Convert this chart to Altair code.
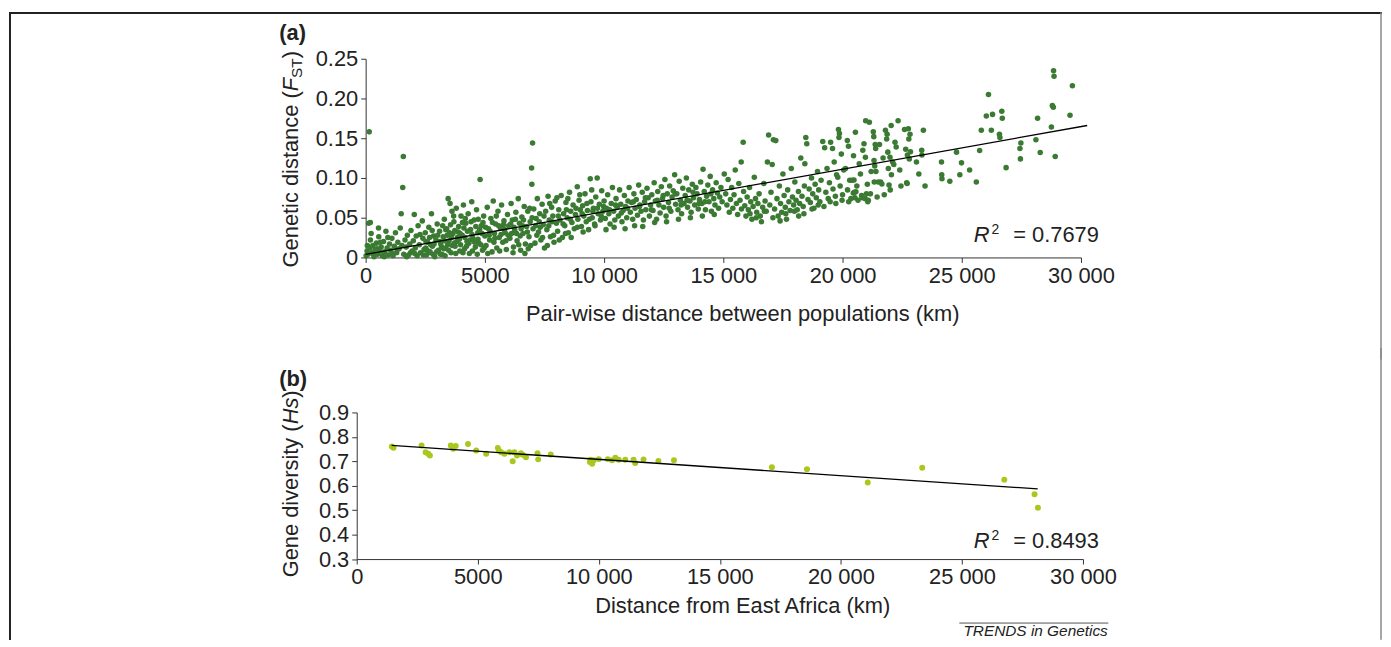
import altair as alt
import pandas as pd

FONT = "Liberation Sans"
TXT = "#222222"
GREEN = "#3b7a32"
LIME = "#a8c81e"

# ---------------- Panel (a): pair-wise distance (km) vs Fst
fst_0_2500 = [
    (20, 0.002), (60, 0.008), (70, 0.015), (100, 0.004), (125, 0.043), (150, 0.158), (180, 0.012),
    (195, 0.044), (200, 0.022), (230, 0.030), (260, 0.006), (300, 0.015), (320, 0.004), (350, 0.001),
    (400, 0.010), (450, 0.018), (480, 0.011), (500, 0.004), (540, 0.037), (550, 0.026), (600, 0.008),
    (620, 0.019), (650, 0.013), (700, 0.002), (750, 0.020), (780, 0.001), (800, 0.007), (850, 0.033),
    (900, 0.012), (930, 0.025), (950, 0.003), (1000, 0.017), (1050, 0.009), (1100, 0.024), (1120, 0.005),
    (1150, 0.002), (1200, 0.014), (1250, 0.031), (1300, 0.006), (1320, 0.010), (1350, 0.019), (1400, 0.011),
    (1450, 0.037), (1490, 0.055), (1520, 0.015), (1555, 0.088), (1580, 0.127), (1600, 0.004), (1650, 0.022),
    (1700, 0.013), (1720, 0.001), (1750, 0.028), (1800, 0.003), (1850, 0.017), (1880, 0.006), (1900, 0.034),
    (1950, 0.008), (2000, 0.021), (2040, 0.054), (2060, 0.005), (2080, 0.012), (2120, 0.027), (2160, 0.002),
    (2200, 0.040), (2250, 0.016), (2280, 0.029), (2300, 0.006), (2375, 0.046), (2400, 0.024), (2420, 0.003),
    (2450, 0.010),
]
fst_2500_5000 = [
    (2500, 0.031), (2520, 0.012), (2550, 0.003), (2580, 0.009), (2600, 0.019), (2650, 0.038), (2680, 0.025),
    (2700, 0.007), (2730, 0.016), (2760, 0.055), (2800, 0.014), (2820, 0.004), (2850, 0.027), (2900, 0.001),
    (2950, 0.022), (2980, 0.007), (3000, 0.042), (3050, 0.009), (3100, 0.033), (3120, 0.020), (3150, 0.017),
    (3180, 0.013), (3200, 0.004), (3250, 0.026), (3280, 0.011), (3300, 0.048), (3330, 0.002), (3350, 0.012),
    (3360, 0.035), (3400, 0.036), (3420, 0.028), (3460, 0.074), (3480, 0.009), (3500, 0.021), (3540, 0.068),
    (3560, 0.041), (3580, 0.006), (3620, 0.058), (3630, 0.015), (3660, 0.030), (3690, 0.052), (3700, 0.045),
    (3720, 0.018), (3750, 0.014), (3780, 0.005), (3800, 0.062), (3850, 0.025), (3880, 0.032), (3900, 0.039),
    (3930, 0.023), (3950, 0.008), (3980, 0.016), (4000, 0.052), (4050, 0.028), (4080, 0.006), (4100, 0.066),
    (4120, 0.037), (4150, 0.011), (4180, 0.049), (4200, 0.043), (4230, 0.014), (4250, 0.020), (4300, 0.055),
    (4350, 0.005), (4380, 0.022), (4400, 0.035), (4420, 0.045), (4450, 0.070), (4480, 0.008), (4500, 0.024),
    (4550, 0.047), (4600, 0.013), (4620, 0.039), (4650, 0.060), (4680, 0.004), (4700, 0.031), (4720, 0.048),
    (4750, 0.018), (4800, 0.098), (4830, 0.016), (4850, 0.040), (4880, 0.030), (4900, 0.009), (4950, 0.052),
    (4970, 0.012), (5000, 0.027),
]
fst_5000_7500 = [
    (5050, 0.015), (5100, 0.063), (5120, 0.005), (5150, 0.036), (5200, 0.022), (5220, 0.033), (5250, 0.049),
    (5300, 0.007), (5350, 0.071), (5380, 0.019), (5400, 0.030), (5450, 0.042), (5480, 0.052), (5500, 0.012),
    (5550, 0.058), (5600, 0.025), (5620, 0.008), (5650, 0.037), (5700, 0.066), (5750, 0.019), (5780, 0.041),
    (5800, 0.046), (5850, 0.031), (5880, 0.021), (5900, 0.010), (5950, 0.054), (6000, 0.040), (6050, 0.024),
    (6100, 0.068), (6120, 0.030), (6150, 0.047), (6180, 0.006), (6200, 0.013), (6250, 0.035), (6280, 0.048),
    (6300, 0.057), (6350, 0.021), (6400, 0.074), (6420, 0.016), (6450, 0.043), (6480, 0.027), (6500, 0.009),
    (6550, 0.051), (6580, 0.040), (6600, 0.030), (6650, 0.064), (6680, 0.005), (6700, 0.017), (6750, 0.039),
    (6800, 0.058), (6820, 0.011), (6850, 0.026), (6880, 0.062), (6900, 0.045), (6920, 0.015), (6960, 0.1125),
    (6970, 0.092), (7000, 0.144), (7020, 0.036), (7050, 0.061), (7100, 0.018), (7150, 0.049), (7180, 0.028),
    (7200, 0.074), (7250, 0.032), (7280, 0.045), (7300, 0.055), (7350, 0.022), (7400, 0.067), (7420, 0.025),
    (7450, 0.041), (7500, 0.012),
]
fst_7500_10000 = [
    (7550, 0.058), (7600, 0.035), (7620, 0.015), (7650, 0.077), (7700, 0.047), (7720, 0.068), (7750, 0.026),
    (7800, 0.063), (7850, 0.052), (7880, 0.028), (7900, 0.019), (7950, 0.071), (8000, 0.043), (8020, 0.075),
    (8050, 0.033), (8100, 0.060), (8120, 0.022), (8150, 0.047), (8200, 0.078), (8250, 0.025), (8300, 0.055),
    (8350, 0.040), (8380, 0.030), (8400, 0.069), (8450, 0.050), (8480, 0.074), (8500, 0.031), (8550, 0.082),
    (8600, 0.058), (8620, 0.025), (8650, 0.044), (8700, 0.066), (8750, 0.036), (8800, 0.054), (8875, 0.089),
    (8880, 0.038), (8900, 0.048), (8950, 0.072), (8980, 0.079), (9000, 0.060), (9050, 0.039), (9100, 0.065),
    (9120, 0.032), (9150, 0.052), (9200, 0.080), (9250, 0.045), (9300, 0.059), (9350, 0.035), (9380, 0.048),
    (9420, 0.099), (9450, 0.070), (9480, 0.085), (9500, 0.050), (9550, 0.062), (9600, 0.042), (9620, 0.040),
    (9650, 0.076), (9710, 0.100), (9750, 0.055), (9800, 0.067), (9850, 0.047), (9880, 0.052), (9900, 0.084),
    (9950, 0.058), (10000, 0.071),
]
fst_10000_15000 = [
    (10050, 0.049), (10080, 0.035), (10100, 0.062), (10150, 0.079), (10200, 0.055), (10250, 0.042),
    (10300, 0.068), (10350, 0.088), (10400, 0.058), (10420, 0.038), (10450, 0.047), (10500, 0.074),
    (10550, 0.063), (10600, 0.052), (10650, 0.085), (10700, 0.067), (10750, 0.045), (10800, 0.059),
    (10850, 0.078), (10880, 0.036), (10900, 0.064), (10950, 0.050), (11000, 0.071), (11050, 0.088),
    (11100, 0.057), (11150, 0.069), (11200, 0.048), (11250, 0.080), (11280, 0.040), (11300, 0.062),
    (11350, 0.073), (11400, 0.053), (11450, 0.091), (11500, 0.066), (11550, 0.058), (11600, 0.082),
    (11620, 0.039), (11650, 0.047), (11700, 0.070), (11750, 0.060), (11800, 0.087), (11850, 0.075),
    (11900, 0.052), (11950, 0.066), (12000, 0.079), (12050, 0.059), (12100, 0.094), (12120, 0.044),
    (12150, 0.071), (12200, 0.048), (12250, 0.083), (12300, 0.066), (12350, 0.056), (12400, 0.089),
    (12450, 0.074), (12500, 0.063), (12550, 0.098), (12600, 0.052), (12620, 0.045), (12650, 0.080),
    (12700, 0.069), (12750, 0.090), (12800, 0.058), (12850, 0.076), (12900, 0.084), (12960, 0.104),
    (13000, 0.067), (13050, 0.080), (13100, 0.060), (13120, 0.048), (13150, 0.096), (13200, 0.072),
    (13250, 0.055), (13300, 0.087), (13350, 0.068), (13400, 0.078), (13450, 0.100), (13500, 0.063),
    (13550, 0.085), (13600, 0.071), (13620, 0.050), (13650, 0.057), (13700, 0.092), (13750, 0.075),
    (13800, 0.066), (13850, 0.088), (13900, 0.080), (13950, 0.061), (14000, 0.073), (14050, 0.095),
    (14100, 0.068), (14120, 0.052), (14150, 0.111), (14200, 0.083), (14250, 0.060), (14300, 0.077),
    (14350, 0.091), (14400, 0.070), (14450, 0.102), (14500, 0.058), (14550, 0.085), (14600, 0.074),
    (14620, 0.054), (14650, 0.066), (14700, 0.094), (14750, 0.081), (14800, 0.062), (14850, 0.076),
    (14900, 0.088), (14950, 0.070),
]
fst_dense_extra = [
    (2530, 0.020), (2630, 0.006), (2790, 0.034), (2870, 0.017), (3020, 0.028), (3140, 0.004), (3230, 0.040),
    (3310, 0.021), (3440, 0.016), (3520, 0.031), (3600, 0.025), (3740, 0.034), (3820, 0.020), (3960, 0.030),
    (4060, 0.044), (4160, 0.025), (4270, 0.033), (4330, 0.018), (4460, 0.029), (4570, 0.019), (4710, 0.023),
    (4780, 0.035), (4920, 0.044), (5030, 0.038), (5180, 0.028), (5320, 0.044), (5420, 0.024), (5580, 0.040),
    (5680, 0.029), (5820, 0.035), (5980, 0.028), (6080, 0.042), (6220, 0.038), (6330, 0.030), (6520, 0.036),
    (6620, 0.047), (6780, 0.032), (6980, 0.050), (7130, 0.040), (7320, 0.038), (7480, 0.052), (7680, 0.040),
    (7820, 0.045), (8080, 0.052), (8280, 0.042), (8420, 0.060), (8580, 0.048), (8820, 0.062), (9080, 0.055),
    (9280, 0.068), (9530, 0.058), (9720, 0.062), (9980, 0.064), (10230, 0.060), (10480, 0.066), (10720, 0.056),
    (10980, 0.062), (11230, 0.070), (11480, 0.064), (11730, 0.075), (11980, 0.060), (12230, 0.072),
    (12480, 0.078), (12730, 0.062), (12980, 0.080), (13230, 0.066), (13480, 0.072), (13730, 0.082),
    (13980, 0.068), (14230, 0.070), (14480, 0.080),
]
fst_15000_20000 = [
    (15040, 0.105), (15100, 0.080), (15150, 0.066), (15200, 0.098), (15250, 0.057), (15300, 0.073),
    (15350, 0.088), (15400, 0.062), (15450, 0.079), (15500, 0.110), (15550, 0.068), (15600, 0.054),
    (15650, 0.093), (15700, 0.072), (15750, 0.120), (15760, 0.061), (15833, 0.145), (15850, 0.083),
    (15900, 0.065), (15950, 0.052), (16000, 0.076), (16050, 0.060), (16100, 0.088), (16120, 0.055),
    (16150, 0.070), (16200, 0.048), (16250, 0.064), (16300, 0.101), (16350, 0.074), (16380, 0.050),
    (16400, 0.057), (16450, 0.068), (16500, 0.080), (16550, 0.052), (16600, 0.045), (16650, 0.063),
    (16700, 0.093), (16720, 0.058), (16750, 0.071), (16800, 0.058), (16850, 0.120), (16900, 0.154),
    (16950, 0.066), (17000, 0.082), (17050, 0.117), (17080, 0.050), (17100, 0.148), (17150, 0.061),
    (17200, 0.147), (17250, 0.074), (17300, 0.052), (17350, 0.090), (17380, 0.046), (17400, 0.068),
    (17450, 0.057), (17500, 0.105), (17550, 0.078), (17600, 0.063), (17620, 0.055), (17650, 0.048),
    (17700, 0.085), (17750, 0.070), (17800, 0.059), (17850, 0.112), (17900, 0.076), (17950, 0.066),
    (17980, 0.058), (18000, 0.095), (18050, 0.072), (18100, 0.060), (18150, 0.083), (18160, 0.052),
    (18200, 0.068), (18250, 0.125), (18300, 0.077), (18350, 0.064), (18380, 0.055), (18400, 0.090),
    (18420, 0.118), (18460, 0.151), (18500, 0.143), (18550, 0.073), (18600, 0.086), (18650, 0.069),
    (18700, 0.100), (18720, 0.061), (18750, 0.080), (18800, 0.062), (18850, 0.092), (18900, 0.075),
    (18950, 0.108), (18980, 0.066), (19000, 0.085), (19050, 0.070), (19100, 0.097), (19170, 0.146),
    (19220, 0.064), (19250, 0.138), (19300, 0.082), (19350, 0.112), (19400, 0.074), (19450, 0.094),
    (19480, 0.070), (19500, 0.145), (19580, 0.137), (19600, 0.086), (19650, 0.120), (19700, 0.077),
    (19720, 0.068), (19750, 0.104), (19800, 0.101), (19830, 0.161), (19850, 0.151), (19870, 0.156),
    (19900, 0.090), (19950, 0.130), (19980, 0.072), (20000, 0.079),
]
fst_20000_25000 = [
    (20050, 0.110), (20125, 0.112), (20200, 0.147), (20210, 0.085), (20250, 0.140), (20260, 0.070),
    (20300, 0.097), (20350, 0.074), (20400, 0.097), (20450, 0.081), (20460, 0.128), (20480, 0.0975),
    (20500, 0.082), (20520, 0.075), (20540, 0.1575), (20560, 0.0825), (20600, 0.090), (20650, 0.072),
    (20700, 0.118), (20750, 0.105), (20800, 0.078), (20820, 0.075), (20850, 0.135), (20900, 0.143),
    (20950, 0.074), (20960, 0.126), (20970, 0.172), (21000, 0.080), (21040, 0.092), (21060, 0.070),
    (21080, 0.072), (21125, 0.170), (21170, 0.080), (21200, 0.108), (21290, 0.158), (21310, 0.152),
    (21320, 0.122), (21330, 0.095), (21350, 0.115), (21370, 0.142), (21390, 0.137), (21400, 0.108),
    (21450, 0.076), (21500, 0.095), (21550, 0.142), (21600, 0.095), (21650, 0.0925), (21700, 0.125),
    (21750, 0.079), (21800, 0.160), (21850, 0.149), (21870, 0.155), (21900, 0.1325), (21920, 0.112),
    (21950, 0.091), (21990, 0.126), (22000, 0.085), (22040, 0.166), (22050, 0.104), (22100, 0.120),
    (22150, 0.117), (22200, 0.145), (22250, 0.139), (22330, 0.172), (22400, 0.110), (22450, 0.090),
    (22600, 0.161), (22650, 0.136), (22690, 0.094), (22710, 0.093), (22720, 0.129), (22760, 0.162),
    (22780, 0.149), (22800, 0.124), (22830, 0.155), (22850, 0.133), (23100, 0.120), (23200, 0.105),
    (23320, 0.135), (23330, 0.129), (23390, 0.160), (23460, 0.090), (24150, 0.120), (24160, 0.104),
    (24170, 0.099), (24500, 0.096), (24780, 0.1325), (24920, 0.104), (24990, 0.119),
]
fst_25000_30000 = [
    (25330, 0.110), (25610, 0.095), (25750, 0.1346), (25820, 0.160), (26030, 0.178), (26120, 0.205),
    (26240, 0.160), (26290, 0.180), (26580, 0.155), (26600, 0.151), (26680, 0.184), (26700, 0.175),
    (26860, 0.113), (27440, 0.137), (27460, 0.124), (27480, 0.144), (28110, 0.148), (28180, 0.175),
    (28290, 0.132), (28760, 0.164), (28800, 0.191), (28840, 0.189), (28850, 0.235), (28870, 0.228),
    (28920, 0.127), (29540, 0.179), (29640, 0.216),
]
fit_a_km = [0, 30260]
fit_a_fst = [0.004, 0.166]

# ---------------- Panel (b): distance from East Africa (km) vs Hs
hs_km = [1450, 1518, 2681, 2846, 2955, 3023, 3885, 3981, 4091, 4597, 4938, 5348, 5828, 5869, 5964,
         6102, 6307, 6443, 6513, 6621, 6785, 6855, 6990, 7469, 7497, 8016, 9657, 9727, 9632, 9795,
         10000, 10370, 10547, 10684, 10821, 11094, 11436, 11505, 11848, 12463, 13105, 17150, 18600,
         21110, 23360, 26750, 28000, 28140]
hs_val = [0.761, 0.755, 0.765, 0.737, 0.731, 0.724, 0.765, 0.751, 0.763, 0.771, 0.744, 0.731, 0.755,
          0.744, 0.737, 0.731, 0.737, 0.700, 0.737, 0.724, 0.733, 0.727, 0.717, 0.733, 0.708, 0.728,
          0.706, 0.690, 0.697, 0.704, 0.709, 0.709, 0.704, 0.715, 0.706, 0.706, 0.706, 0.693, 0.708,
          0.701, 0.704, 0.676, 0.668, 0.613, 0.674, 0.625, 0.565, 0.510]
fit_b_km = [1440, 28130]
fit_b_hs = [0.765, 0.587]

x_ticks = [0, 5000, 10000, 15000, 20000, 25000, 30000]
fst_ticks = [0, 0.05, 0.1, 0.15, 0.2, 0.25]
hs_ticks = [0.3, 0.4, 0.5, 0.6, 0.7, 0.8, 0.9]

KM_LABEL = "datum.value >= 10000 ? replace(format(datum.value, ','), ',', ' ') : format(datum.value, 'd')"

pts_a = pd.DataFrame(
    fst_0_2500 + fst_2500_5000 + fst_5000_7500 + fst_7500_10000 + fst_10000_15000
    + fst_dense_extra + fst_15000_20000 + fst_20000_25000 + fst_25000_30000,
    columns=["km", "fst"],
)
fit_a = pd.DataFrame({"km": fit_a_km, "fst": fit_a_fst})
pts_b = pd.DataFrame({"km": hs_km, "hs": hs_val})
fit_b = pd.DataFrame({"km": fit_b_km, "hs": fit_b_hs})

ONE = pd.DataFrame({"k": [0]})


def text(s, x, y, size=22, style="normal", weight="normal", align="left",
         baseline="alphabetic", angle=0, color=TXT):
    return alt.Chart(pd.DataFrame({"t": [s]})).mark_text(
        font=FONT, fontSize=size, fontStyle=style, fontWeight=weight,
        align=align, baseline=baseline, angle=angle, color=color,
    ).encode(x=alt.value(x), y=alt.value(y), text="t:N")


def rule(x, y, x2=None, y2=None, color="#222222", width=2):
    enc = {"x": alt.value(x), "y": alt.value(y)}
    if x2 is not None:
        enc["x2"] = alt.value(x2)
    if y2 is not None:
        enc["y2"] = alt.value(y2)
    return alt.Chart(ONE).mark_rule(color=color, strokeWidth=width, strokeCap="square").encode(**enc)


# ---------------- Panel (a)
xa = alt.X("km:Q", scale=alt.Scale(domain=[0, 30000], range=[9, 729], nice=False),
           axis=alt.Axis(values=x_ticks, labelExpr=KM_LABEL, labelFlush=False,
                         labelOverlap=False,
                         title="Pair-wise distance between populations (km)",
                         titleX=388, titleY=56, titleAlign="center", titleBaseline="middle"))
ya = alt.Y("fst:Q", scale=alt.Scale(domain=[0, 0.25], nice=False),
           axis=alt.Axis(values=fst_ticks, offset=-9, title=None, labelOverlap=False,
                         labelExpr="datum.value == 0 ? '0' : format(datum.value, '.2f')"))

pa = alt.Chart(pts_a).mark_circle(size=31, opacity=1, color=GREEN).encode(x=xa, y=ya)
la = alt.Chart(fit_a).mark_line(color="black", strokeWidth=1.3).encode(x=xa, y=ya)

panel_a = alt.layer(
    pa, la,
    text("(a)", -78, -19, weight="bold"),
    text("Genetic distance (", -66, 210, baseline="middle", angle=270),
    text("F", -66, 32.7, style="italic", baseline="middle", angle=270),
    text("ST", -60, 19.3, size=15.5, baseline="middle", angle=270),
    text(")", -66, -0.5, baseline="middle", angle=270),
    text("R", 621, 184, style="italic"),
    text("2", 639, 176, size=14),
    text("= 0.7679", 747, 184, align="right"),
    rule(-349, -46, x2=1031),
    rule(-349, -46, y2=302),
    rule(1031, -46, y2=302, color="#888888", width=1.5),
).properties(width=729, height=200)

# ---------------- Panel (b)
xb = alt.X("km:Q", scale=alt.Scale(domain=[0, 30000], nice=False),
           axis=alt.Axis(values=x_ticks, labelExpr=KM_LABEL, labelFlush=False,
                         labelOverlap=False, title="Distance from East Africa (km)",
                         titleX=388, titleY=47, titleAlign="center", titleBaseline="middle"))
yb = alt.Y("hs:Q", scale=alt.Scale(domain=[0.3, 0.9], nice=False),
           axis=alt.Axis(values=hs_ticks, format=".1f", title=None, labelOverlap=False))

pb = alt.Chart(pts_b).mark_circle(size=36, opacity=1, color=LIME).encode(x=xb, y=yb)
lb = alt.Chart(fit_b).mark_line(color="black", strokeWidth=1.3).encode(x=xb, y=yb)

panel_b = alt.layer(
    pb, lb,
    text("(b)", -78, -27, weight="bold"),
    text("Gene diversity (", -66, 166, baseline="middle", angle=270),
    text("Hs", -66, 12, style="italic", baseline="middle", angle=270),
    text(")", -66, -14.9, baseline="middle", angle=270),
    text("R", 621, 136, style="italic"),
    text("2", 639, 128, size=14),
    text("= 0.8493", 747, 136, align="right"),
    text("TRENDS in Genetics", 756, 225, size=15.5, style="italic", align="right"),
    rule(607, 212, x2=756, color="#555555", width=1),
    rule(-349, -64, y2=228),
    rule(1031, -64, y2=228, color="#888888", width=1.5),
).properties(width=731, height=147.6)

chart = alt.vconcat(panel_a, panel_b, spacing=-14).properties(
    padding={"left": 0, "top": 1, "right": 0, "bottom": 0}
).configure_view(stroke=None).configure_axis(
    grid=False, domainColor="#333333", tickColor="#333333", domainWidth=1, tickWidth=1,
    tickSize=5, labelFont=FONT, labelFontSize=22, labelColor=TXT, labelPadding=3,
    labelOverlap=False, labelBound=False,
    titleFont=FONT, titleFontSize=22, titleFontWeight="normal", titleColor=TXT,
)

chart.save("out.html", embed_options={"renderer": "svg", "actions": False})
